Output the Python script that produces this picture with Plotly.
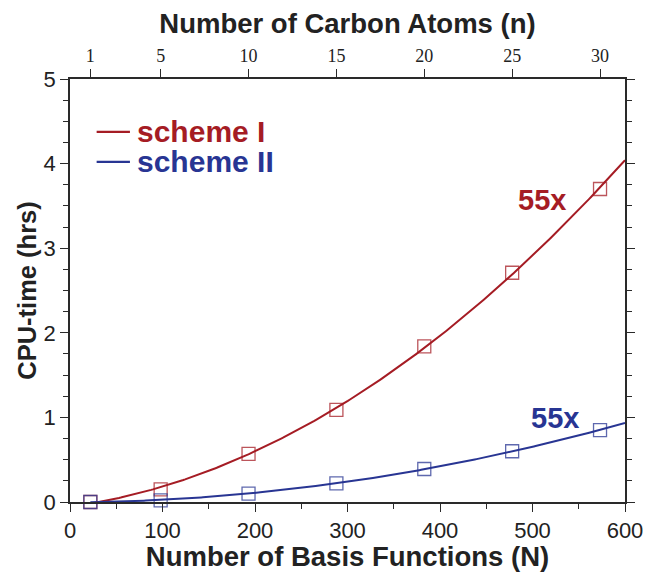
import numpy as np
import plotly.graph_objects as go

# Carbon atoms in each test molecule, its basis-set size (N) and measured CPU time (hours)
carbon_atoms = [1, 5, 10, 15, 20, 25, 30]
basis_functions = [22, 98, 193, 288, 383, 478, 573]
cpu_scheme1 = [0.0, 0.15, 0.57, 1.09, 1.84, 2.71, 3.70]
cpu_scheme2 = [0.0, 0.02, 0.10, 0.22, 0.39, 0.60, 0.85]

# Top axis: number of carbon atoms (N = 19 n + 3)
carbon_ticks = [1, 5, 10, 15, 20, 25, 30]
carbon_range = [(0 - 3) / 19, (600 - 3) / 19]

RED = "#a51c24"
BLUE = "#283593"
RED_MK = "rgba(165,28,36,0.75)"
BLUE_MK = "rgba(40,53,147,0.75)"
AXIS = "#2a2a2a"

# Quadratic fits through the measured timings
fit1 = np.polyfit(basis_functions, cpu_scheme1, 2)
fit2 = np.polyfit(basis_functions, cpu_scheme2, 2)
n_fit = np.linspace(basis_functions[0], 600, 300)
y_fit1 = np.polyval(fit1, n_fit)
y_fit2 = np.polyval(fit2, n_fit)

fig = go.Figure()
fig.add_trace(go.Scatter(x=n_fit, y=y_fit1, mode="lines", name="scheme I",
                         showlegend=False, line=dict(color=RED, width=2)))
fig.add_trace(go.Scatter(x=n_fit, y=y_fit2, mode="lines", name="scheme II",
                         showlegend=False, line=dict(color=BLUE, width=2)))
fig.add_trace(go.Scatter(x=basis_functions, y=cpu_scheme1, mode="markers", showlegend=False,
                         cliponaxis=False,
                         marker=dict(symbol="square-open", size=13, color=RED_MK,
                                     line=dict(width=1.3, color=RED_MK))))
fig.add_trace(go.Scatter(x=basis_functions, y=cpu_scheme2, mode="markers", showlegend=False,
                         cliponaxis=False,
                         marker=dict(symbol="square-open", size=13, color=BLUE_MK,
                                     line=dict(width=1.3, color=BLUE_MK))))
# invisible trace that carries the carbon-atom axis
fig.add_trace(go.Scatter(x=carbon_atoms, y=[None] * len(carbon_atoms), xaxis="x2",
                         mode="markers", showlegend=False, hoverinfo="skip"))

# "55x" speed-up labels
fig.add_annotation(x=510, y=3.57, text="<b>55x</b>", showarrow=False,
                   font=dict(family="Liberation Sans, Arial", size=29, color=RED))
fig.add_annotation(x=524, y=0.99, text="<b>55x</b>", showarrow=False,
                   font=dict(family="Liberation Sans, Arial", size=29, color=BLUE))

# legend: short line + coloured bold label
legend_items = [("scheme I", RED, 0.875), ("scheme II", BLUE, 0.804)]
for label, color, ypos in legend_items:
    fig.add_shape(type="line", xref="paper", yref="paper", x0=0.048, x1=0.108,
                  y0=ypos, y1=ypos, line=dict(color=color, width=2.2))
    fig.add_annotation(xref="paper", yref="paper", x=0.118, y=ypos, xanchor="left",
                       yanchor="middle", text="<b>%s</b>" % label, showarrow=False,
                       font=dict(family="Liberation Sans, Arial", size=30, color=color))

tick_font = dict(family="Liberation Sans, Arial", size=22, color="#222")
title_font = dict(family="Liberation Sans, Arial", size=27.5, color="#222")

fig.update_layout(
    width=646, height=572,
    margin=dict(l=70, r=21, t=79, b=70),
    paper_bgcolor="white", plot_bgcolor="white",
    showlegend=False,
    xaxis=dict(range=[0, 600], tickvals=[0, 100, 200, 300, 400, 500, 600],
               ticks="outside", ticklen=8, tickwidth=1, tickcolor=AXIS,
               minor=dict(dtick=50, ticks="outside", ticklen=5, tickcolor=AXIS),
               showline=True, linecolor=AXIS, linewidth=1.5, mirror=False,
               showgrid=False, zeroline=False, tickfont=tick_font, automargin=False,
               title=dict(text="<b>Number of Basis Functions (N)</b>", font=title_font, standoff=3)),
    xaxis2=dict(overlaying="x", side="top", range=carbon_range, tickvals=carbon_ticks,
                ticks="outside", ticklen=8, tickwidth=1, tickcolor=AXIS,
                showline=True, linecolor=AXIS, linewidth=1.5,
                showgrid=False, zeroline=False, automargin=False,
                tickfont=dict(family="Liberation Serif, Times New Roman", size=18, color="#222"),
                title=dict(text="<b>Number of Carbon Atoms (n)</b>", font=title_font, standoff=4)),
    yaxis=dict(range=[0, 5], dtick=1, ticks="outside", ticklen=8, tickwidth=1, tickcolor=AXIS,
               minor=dict(dtick=0.25, ticks="outside", ticklen=5, tickcolor=AXIS),
               showline=True, linecolor=AXIS, linewidth=1.5, mirror="ticks",
               showgrid=False, zeroline=False, tickfont=tick_font, automargin=False,
               title=dict(text="<b>CPU-time (hrs)</b>",
                          font=dict(family="Liberation Sans, Arial", size=25.5, color="#222"),
                          standoff=0)),
)

fig.write_html("out.html")
